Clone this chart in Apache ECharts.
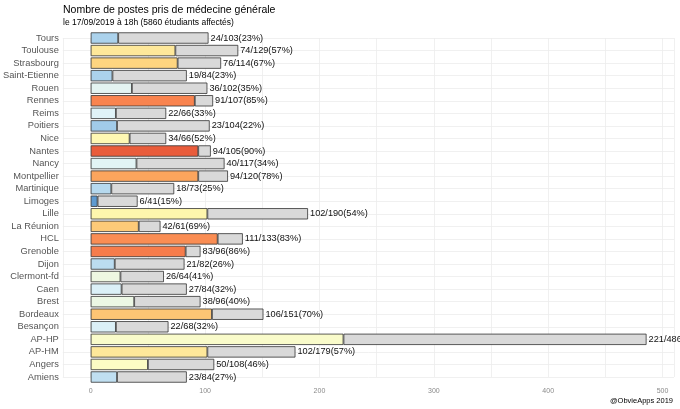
<!DOCTYPE html>
<html>
<head>
<meta charset="utf-8">
<script src="https://cdn.jsdelivr.net/npm/echarts@6/dist/echarts.min.js"></script>
<style>
  html, body { margin: 0; padding: 0; background: #fff; }
  #eCharts { width: 680px; height: 409px; }
</style>
</head>
<body>
<div id="eCharts"></div>
<script>
// villes, du bas vers le haut
var villes = ['Amiens', 'Angers', 'AP-HM', 'AP-HP', 'Besançon', 'Bordeaux', 'Brest', 'Caen',
    'Clermont-fd', 'Dijon', 'Grenoble', 'HCL', 'La Réunion', 'Lille', 'Limoges', 'Martinique',
    'Montpellier', 'Nancy', 'Nantes', 'Nice', 'Poitiers', 'Reims', 'Rennes', 'Rouen',
    'Saint-Etienne', 'Strasbourg', 'Toulouse', 'Tours'];
// postes pris
var pris = [23, 50, 102, 221, 22, 106, 38, 27, 26, 21, 83, 111, 42, 102, 6, 18,
    94, 40, 94, 34, 23, 22, 91, 36, 19, 76, 74, 24];
// postes ouverts
var total = [84, 108, 179, 486, 68, 151, 96, 84, 64, 82, 96, 133, 61, 190, 41, 73,
    120, 117, 105, 66, 104, 66, 107, 102, 84, 114, 129, 103];
// pourcentage affiché
var pct = [27, 46, 57, 45, 32, 70, 40, 32, 41, 26, 86, 83, 69, 54, 15, 25,
    78, 34, 90, 52, 22, 33, 85, 35, 23, 67, 57, 23];
var xTicks = [0, 100, 200, 300, 400, 500];

// palette bleu -> jaune -> rouge selon le pourcentage
var stops = [[15, '#5e9ad0'], [23, '#abd2ec'], [33, '#e0f3f8'], [41, '#eef7e1'], [46, '#fcfcc4'],
    [54, '#fef6ad'], [57, '#fee89a'], [67, '#fed580'], [70, '#fdc574'], [78, '#fca55d'],
    [85, '#f9844f'], [90, '#e95c3b']];
function couleur(p) {
    if (p <= stops[0][0]) return stops[0][1];
    for (var i = 1; i < stops.length; i++) {
        if (p <= stops[i][0]) {
            var t = (p - stops[i - 1][0]) / (stops[i][0] - stops[i - 1][0]);
            return echarts.color.lerp(t, [stops[i - 1][1], stops[i][1]]);
        }
    }
    return stops[stops.length - 1][1];
}

var dataPris = [];
var dataReste = [];
for (var i = 0; i < villes.length; i++) {
    dataPris.push({value: pris[i], itemStyle: {color: couleur(pct[i])}});
    dataReste.push(total[i] - pris[i]);
}

var myChart = echarts.init(document.getElementById('eCharts'));
var font = 'Liberation Sans, Arial, sans-serif';

option = {
    animation: false,
    backgroundColor: '#fff',
    title: [
        {
            text: 'Nombre de postes pris de médecine générale',
            left: 63, top: 5, padding: 0,
            textStyle: {fontFamily: font, fontSize: 10.5, fontWeight: 'normal', color: '#000'}
        },
        {
            text: 'le 17/09/2019 à 18h (5860 étudiants affectés)',
            left: 63, top: 18, padding: 0,
            textStyle: {fontFamily: font, fontSize: 8.5, fontWeight: 'normal', color: '#000'}
        },
        {
            text: '@ObvieApps 2019',
            right: 7, top: 397, padding: 0,
            textStyle: {fontFamily: font, fontSize: 7.5, fontWeight: 'normal', color: '#000'}
        }
    ],
    grid: {
        left: 62,
        right: 6,
        top: 38,
        bottom: 32
    },
    xAxis: {
        type: 'value',
        min: -24.4,
        max: 510,
        splitNumber: 10,
        minInterval: 50,
        maxInterval: 50,
        axisLine: {show: false},
        axisTick: {show: false},
        axisLabel: {
            margin: 11,
            fontFamily: font,
            fontSize: 7,
            color: '#8a8a8a',
            showMinLabel: false,
            showMaxLabel: false,
            formatter: function (v) {
                return xTicks.indexOf(Math.round(v)) >= 0 && Math.abs(v - Math.round(v)) < 1e-6 ? String(v) : '';
            }
        },
        splitLine: {show: true, lineStyle: {color: '#ececec', width: 0.8}}
    },
    yAxis: {
        type: 'category',
        data: villes,
        boundaryGap: false,
        axisLine: {show: false},
        axisTick: {show: false},
        axisLabel: {
            margin: 4,
            fontFamily: font,
            fontSize: 9.3,
            color: '#555'
        },
        splitLine: {show: true, lineStyle: {color: '#ececec', width: 0.8}}
    },
    series: [
        {
            name: 'pris',
            type: 'bar',
            stack: 'postes',
            clip: false,
            barWidth: 11.3,
            data: dataPris,
            itemStyle: {borderColor: '#333', borderWidth: 0.8}
        },
        {
            name: 'reste',
            type: 'bar',
            stack: 'postes',
            clip: false,
            barWidth: 11.3,
            data: dataReste,
            itemStyle: {color: '#d9d9d9', borderColor: '#333', borderWidth: 0.8},
            label: {
                show: true,
                position: 'right',
                distance: 2,
                fontFamily: font,
                fontSize: 9.2,
                color: '#111',
                formatter: function (p) {
                    var k = p.dataIndex;
                    return pris[k] + '/' + total[k] + '(' + pct[k] + '%)';
                }
            }
        }
    ]
};
myChart.setOption(option);
</script>
</body>
</html>
